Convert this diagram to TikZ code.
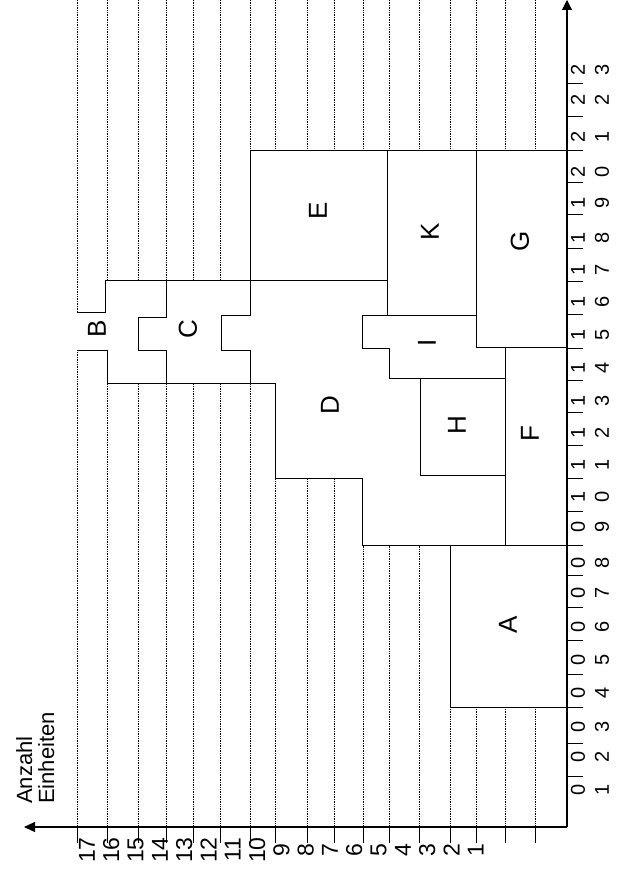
\documentclass[tikz,border=0pt]{standalone}
\usepackage{fontspec}
\setmainfont{Liberation Sans}
\usetikzlibrary{arrows.meta}
\begin{document}
\begin{tikzpicture}[x=1pt,y=-1pt,
  gridline/.style={densely dotted, line width=0.7pt},
  edge/.style={line width=0.9pt, line cap=rect},
  axisline/.style={line width=1.1pt},
  boxlabel/.style={rotate=90, font=\fontsize{26}{26}\selectfont, inner sep=0pt},
  vlabel/.style={rotate=90, font=\fontsize{23}{23}\selectfont, inner sep=0pt},
  hlabel/.style={rotate=90, align=center, font=\fontsize{20}{24}\selectfont, inner sep=0pt}]
\useasboundingbox (0,0) rectangle (619,869);
% grid
\foreach \x in {77,107,138,166,193,220,250,275,307,334,363,389,419,450,476,505,535}
  \draw[gridline] (\x,0) -- (\x,827);
% cover grid where the blocks are
\fill[white] (567,150) -- (250,150) -- (250,280) -- (105,280) -- (105,312) -- (76,312)
  -- (76,350) -- (107,350) -- (107,383) -- (275,383) -- (275,478) -- (362,478)
  -- (362,545) -- (450,545) -- (450,707) -- (567,707) -- cycle;
% block outlines
\draw[edge] (250,150) -- (583,150);
\draw[edge] (250,150) -- (250,315) -- (221,315) -- (221,350) -- (250,350) -- (250,383);
\draw[edge] (387,150) -- (387,315);
\draw[edge] (476,150) -- (476,347);
\draw[edge] (105,280) -- (387,280);
\draw[edge] (105,280) -- (105,312) -- (77,312);
\draw[edge] (77,350) -- (107,350) -- (107,383) -- (275,383) -- (275,478) -- (362,478)
  -- (362,545) -- (567,545);
\draw[edge] (166,280) -- (166,317) -- (138,317) -- (138,350) -- (166,350) -- (166,383);
\draw[edge] (362,315) -- (476,315);
\draw[edge] (362,315) -- (362,348) -- (389,348) -- (389,378) -- (505,378);
\draw[edge] (476,347) -- (567,347);
\draw[edge] (505,347) -- (505,545);
\draw[edge] (420,378) -- (420,475) -- (505,475);
\draw[edge] (450,545) -- (450,707) -- (583,707);
% block labels
\node[boxlabel] (lA) at (508,625) {A};
\node[boxlabel] (lB) at (97,329) {B};
\node[boxlabel] (lC) at (188,329) {C};
\node[boxlabel] (lD) at (330,405) {D};
\node[boxlabel] (lE) at (318,211) {E};
\node[boxlabel] (lF) at (530,434) {F};
\node[boxlabel] (lG) at (520,241) {G};
\node[boxlabel] (lH) at (457,425) {H};
\node[boxlabel] (lI) at (427,343) {I};
\node[boxlabel] (lK) at (430,232) {K};
% axes
\coordinate (O) at (567,827);
\coordinate (yend) at (24,827);
\coordinate (xend) at (567,0);
\draw[axisline,-{Triangle[length=11pt,width=10pt]}] (O) -- (yend);
\draw[axisline,-{Triangle[length=10pt,width=10pt]}] (O) -- (xend);
% ticks on count axis
\foreach \x in {77,107,138,166,193,220,250,275,307,334,363,389,419,450,476,505,535}
  \draw[edge] (\x,827) -- (\x,843);
% count labels
\foreach \v [count=\i from 0] in {17,16,15,14,13,12,11,10,9,8,7,6,5,4,3,2,1}
  \node[vlabel] (c\v) at ({87+24.3*\i},850) {\v};
% ticks on time axis
\foreach \y in {776,743,707,674,640,607,575,545,511,478,445,412,380,348,314,281,248,214,182,150,116,83}
  \draw[edge] (567,\y) -- (583,\y);
% time labels
\foreach \a/\b/\y in {0/1/790,0/2/757,0/3/727,0/4/693,0/5/660,0/6/627,0/7/593,0/8/563,0/9/527,1/0/497,1/1/465,1/2/433,1/3/401,1/4/368,1/5/335,1/6/302,1/7/270,1/8/238,1/9/203,2/0/172,2/1/137,2/2/100,2/3/70}
  \node[hlabel] (t\a\b) at (590,\y) {\a\\\b};
% axis title
\node[rotate=90, anchor=north west, align=left, inner sep=0pt,
  font=\fontsize{22}{22}\selectfont] (title) at (16,804) {Anzahl\\Einheiten};
\end{tikzpicture}
\end{document}
